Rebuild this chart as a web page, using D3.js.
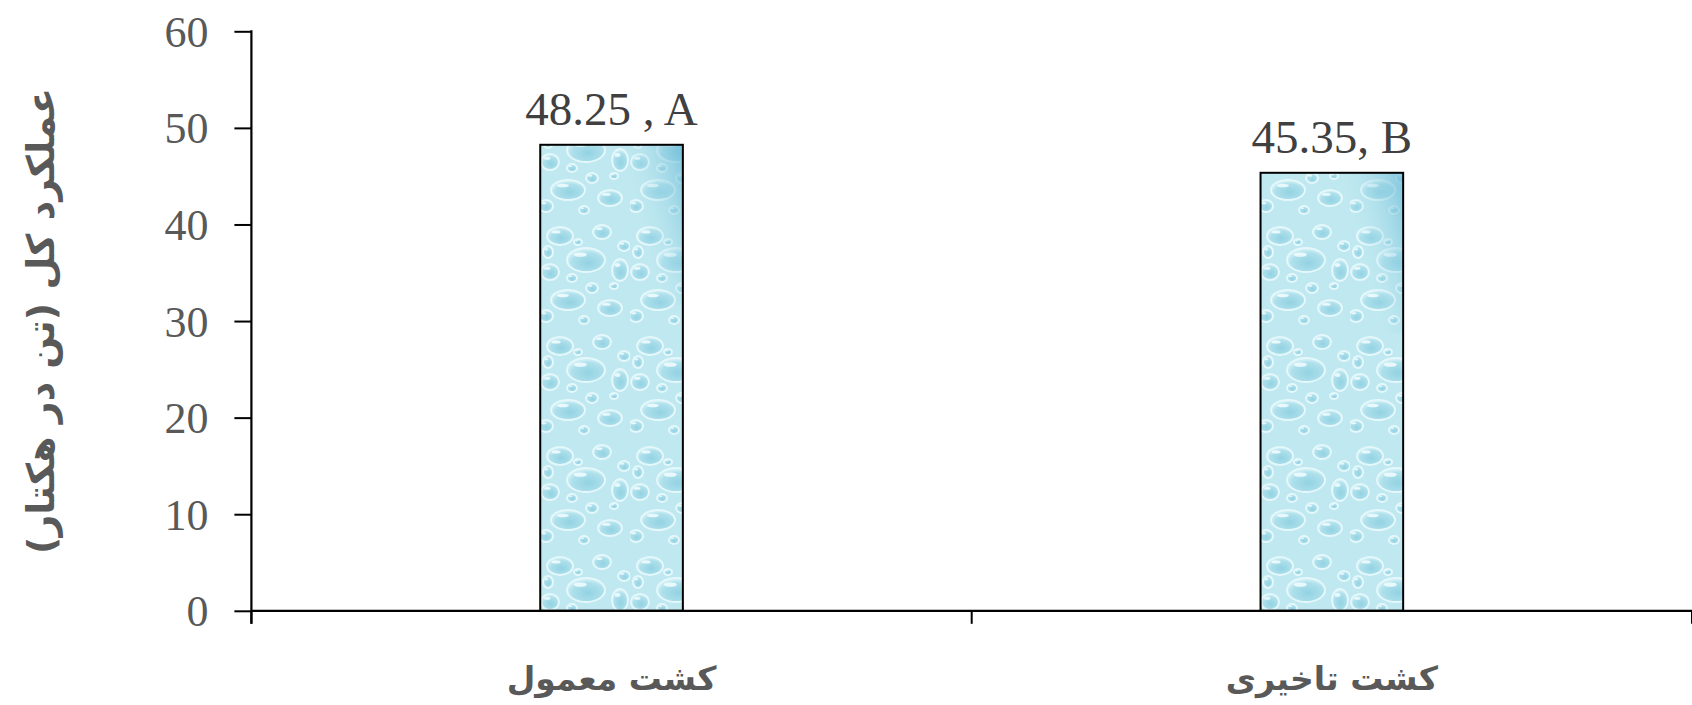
<!DOCTYPE html>
<html>
<head>
<meta charset="utf-8">
<script src="https://cdn.jsdelivr.net/npm/d3@7"></script>
<style>
  html, body { margin: 0; padding: 0; background: #fff; }
  svg { display: block; }
</style>
</head>
<body>
<svg id="chart" width="1692" height="705"></svg>
<script>
// ---- data ----
const categories = ["کشت معمول", "کشت تاخیری"];
const values = [48.25, 45.35];
const valueLabels = ["48.25 , A", "45.35, B"];
const yTicks = [0, 10, 20, 30, 40, 50, 60];
const yTitle = "عملکرد کل (تن در هکتار)";

// ---- layout ----
const W = 1692, H = 705;
const margin = { left: 251.4, right: 0, top: 31.3, bottom: 94.2 };
const svg = d3.select("#chart");

const x = d3.scaleBand()
  .domain(categories)
  .range([margin.left, W - margin.right])
  .paddingInner(0.802)
  .paddingOuter(0.401);

const y = d3.scaleLinear()
  .domain([0, 60])
  .range([H - margin.bottom, margin.top]);

// ---- water-drop pattern ----
const defs = svg.append("defs");
const bg = defs.append("linearGradient").attr("id", "bgGrad")
  .attr("gradientUnits", "objectBoundingBox")
  .attr("x1", "0").attr("y1", "0.3").attr("x2", "1").attr("y2", "0");
bg.append("stop").attr("offset", "0").attr("stop-color", "#c4ecf2").attr("stop-opacity", 0);
bg.append("stop").attr("offset", "0.6").attr("stop-color", "#b3e3ec").attr("stop-opacity", 0);
bg.append("stop").attr("offset", "1").attr("stop-color", "#6fbcd8").attr("stop-opacity", 0.8);

const drop = defs.append("radialGradient").attr("id", "dropGrad")
  .attr("cx", "0.55").attr("cy", "0.62").attr("r", "0.6");
drop.append("stop").attr("offset", "0").attr("stop-color", "#93d2e3");
drop.append("stop").attr("offset", "0.7").attr("stop-color", "#aee0eb");
drop.append("stop").attr("offset", "1").attr("stop-color", "#d8f3f8");

const pat = defs.append("pattern").attr("id", "drops")
  .attr("patternUnits", "userSpaceOnUse")
  .attr("width", 90).attr("height", 110);
pat.append("rect").attr("width", 90).attr("height", 110).attr("fill", "#bfe8f0");
const dropsSpec = [
  [20, 16, 13, 9], [62, 12, 9, 7], [46, 40, 19, 12], [10, 52, 9, 8],
  [80, 50, 8, 11], [28, 80, 17, 10], [70, 88, 12, 8], [6, 96, 7, 6],
  [52, 68, 6, 5], [32, 58, 5, 4], [84, 26, 6, 5], [8, 32, 5, 6],
  [44, 100, 5, 4], [74, 66, 4, 3], [38, 22, 4, 3]
];
dropsSpec.forEach(([cx, cy, rx, ry]) => {
  pat.append("ellipse").attr("cx", cx).attr("cy", cy).attr("rx", rx).attr("ry", ry)
    .attr("fill", "url(#dropGrad)")
    .attr("stroke", "#e4f8fb").attr("stroke-width", 2);
  pat.append("ellipse").attr("cx", cx - rx * 0.3).attr("cy", cy - ry * 0.45)
    .attr("rx", rx * 0.35).attr("ry", ry * 0.18)
    .attr("fill", "#f4fdff").attr("opacity", 0.85);
});

const g = svg.append("g");

// ---- bars ----
const bars = g.selectAll(".bar").data(categories).enter().append("g");
bars.append("rect")
  .attr("x", d => x(d))
  .attr("y", (d, i) => y(values[i]))
  .attr("width", x.bandwidth())
  .attr("height", (d, i) => y(0) - y(values[i]))
  .attr("fill", "url(#drops)");
bars.append("rect")
  .attr("x", d => x(d))
  .attr("y", (d, i) => y(values[i]))
  .attr("width", x.bandwidth())
  .attr("height", (d, i) => Math.min(y(0) - y(values[i]), 160))
  .attr("fill", "url(#bgGrad)");
bars.append("rect")
  .attr("x", d => x(d))
  .attr("y", (d, i) => y(values[i]))
  .attr("width", x.bandwidth())
  .attr("height", (d, i) => y(0) - y(values[i]))
  .attr("fill", "none").attr("stroke", "#000").attr("stroke-width", 2);

// ---- value labels ----
g.selectAll(".vlab").data(categories).enter().append("text")
  .attr("x", d => x(d) + x.bandwidth() / 2)
  .attr("y", (d, i) => y(values[i]) - 20)
  .attr("text-anchor", "middle")
  .attr("font-family", "'Liberation Serif', 'Times New Roman', serif")
  .attr("font-size", 47)
  .attr("fill", "#404040")
  .text((d, i) => valueLabels[i]);

// ---- y axis ----
const yAxis = d3.axisLeft(y).tickValues(yTicks).tickSize(17).tickPadding(26).tickSizeOuter(0);
const ya = g.append("g").attr("transform", `translate(${margin.left},0)`).call(yAxis);
ya.select(".domain").remove();
ya.selectAll(".tick line").attr("stroke", "#000").attr("stroke-width", 2);
ya.selectAll(".tick text")
  .attr("font-family", "'Liberation Serif', 'Times New Roman', serif")
  .attr("font-size", 44).attr("fill", "#595959").attr("dy", "0.34em");
g.append("line")
  .attr("x1", margin.left).attr("x2", margin.left)
  .attr("y1", y(60) - 1).attr("y2", y(0) + 13)
  .attr("stroke", "#000").attr("stroke-width", 2.2);

// ---- x axis ----
g.append("line")
  .attr("x1", margin.left).attr("x2", W)
  .attr("y1", y(0)).attr("y2", y(0))
  .attr("stroke", "#000").attr("stroke-width", 2.2);
const bounds = d3.range(categories.length + 1).map(i => x.range()[0] + i * x.step());
g.selectAll(".xtick").data(bounds).enter().append("line")
  .attr("x1", d => d).attr("x2", d => d)
  .attr("y1", y(0)).attr("y2", y(0) + 13)
  .attr("stroke", "#000").attr("stroke-width", 2);

g.selectAll(".xlab").data(categories).enter().append("text")
  .attr("x", d => x(d) + x.bandwidth() / 2)
  .attr("y", 690)
  .attr("text-anchor", "middle")
  .attr("direction", "rtl")
  .attr("font-family", "'DejaVu Sans', sans-serif")
  .attr("font-weight", "bold")
  .attr("font-size", 33)
  .attr("fill", "#595959")
  .text(d => d);

// ---- y title ----
g.append("text")
  .attr("transform", `translate(54, ${(y(0) + y(60)) / 2}) rotate(-90)`)
  .attr("text-anchor", "middle")
  .attr("direction", "rtl")
  .attr("font-family", "'DejaVu Sans', sans-serif")
  .attr("font-weight", "bold")
  .attr("font-size", 38)
  .attr("fill", "#595959")
  .text(yTitle);
</script>
</body>
</html>
